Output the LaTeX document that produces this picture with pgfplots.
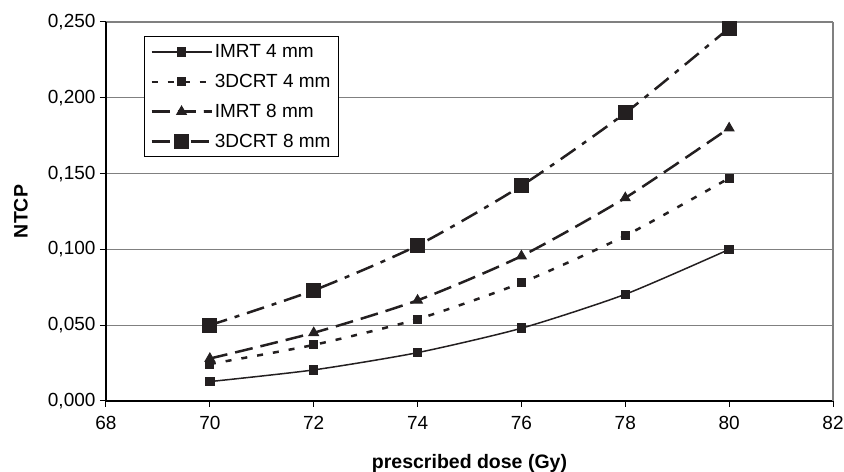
\documentclass[border=0pt]{standalone}
\usepackage{fontspec}
\setmainfont{Liberation Sans}
\usepackage{pgfplots}
\pgfplotsset{compat=1.18}
\definecolor{ink}{RGB}{35,31,32}
\definecolor{gridgray}{RGB}{128,128,128}

\begin{document}
\begin{tikzpicture}[font=\fontsize{19}{22}\selectfont]
\begin{axis}[
    scale only axis,
    width=727pt, height=379pt,
    xmin=68, xmax=82, ymin=0, ymax=0.25,
    xtick={68,70,...,82},
    ytick={0,0.05,...,0.25},
    axis x line*=bottom, axis y line*=left,
    axis line style={-, draw=black, line width=1.2pt},
    tick align=outside,
    major tick length=6pt,
    tick style={black, line width=1pt},
    ymajorgrids,
    major grid style={gridgray, line width=1.3pt},
    extra x ticks={82},
    extra x tick labels={},
    extra x tick style={xmajorgrids, major grid style={gridgray, line width=1.3pt}},
    /pgf/number format/assume math mode=true,
    yticklabel style={xshift=-1pt, /pgf/number format/.cd, fixed, fixed zerofill, precision=3, use comma},
    xticklabel style={yshift=-6pt, /pgf/number format/.cd, fixed},
    xlabel={\fontsize{19.5}{22}\selectfont\bfseries prescribed dose (Gy)},
    ylabel={\fontsize{19.5}{22}\selectfont\bfseries NTCP},
    every axis x label/.style={at={(rel axis cs:0.5,0)}, anchor=center, yshift=-62pt},
    every axis y label/.style={at={(rel axis cs:0,0.5)}, anchor=center, rotate=90, yshift=85pt},
    legend style={at={(0.052,0.962)}, anchor=north west, draw=black, line width=1pt,
        fill=white, inner xsep=6pt, inner ysep=6pt, row sep=11pt,
        font=\fontsize{19}{22}\selectfont},
    legend cell align=left,
    legend image code/.code={\draw[mark repeat=2, mark phase=2, #1]
        plot coordinates {(0pt,0pt) (30pt,0pt) (60pt,0pt)};},
    every axis plot/.append style={ink, smooth, tension=0.4},
    clip=false,
]
% IMRT 4 mm
\addplot[line width=1.5pt, mark=square*, mark size=4pt, mark options={solid, fill=ink}]
    coordinates {(70,0.0128) (72,0.0205) (74,0.0319) (76,0.048) (78,0.0704) (80,0.100)};
% 3DCRT 4 mm
\addplot[line width=2.5pt, dash pattern=on 6pt off 10pt, mark=square*, mark size=4pt, mark options={solid, fill=ink, line width=1pt}]
    coordinates {(70,0.0244) (72,0.037) (74,0.054) (76,0.078) (78,0.109) (80,0.147)};
% IMRT 8 mm
\addplot[line width=2.5pt, dash pattern=on 18pt off 8pt, mark=triangle*, mark size=5.5pt, mark options={solid, fill=ink, line width=1pt}]
    coordinates {(70,0.028) (72,0.045) (74,0.0664) (76,0.0956) (78,0.134) (80,0.180)};
% 3DCRT 8 mm
\addplot[line width=2.5pt, dash pattern=on 18pt off 8pt on 5pt off 8pt, mark=square*, mark size=7pt, mark options={solid, fill=ink, line width=1pt}]
    coordinates {(70,0.050) (72,0.073) (74,0.1026) (76,0.142) (78,0.190) (80,0.246)};
\legend{IMRT 4 mm, 3DCRT 4 mm, IMRT 8 mm, 3DCRT 8 mm}
\end{axis}
\pgfresetboundingbox
\path ([xshift=-106pt,yshift=-71pt]current axis.south west) rectangle ([xshift=11pt,yshift=22pt]current axis.north east);
\end{tikzpicture}
\end{document}
